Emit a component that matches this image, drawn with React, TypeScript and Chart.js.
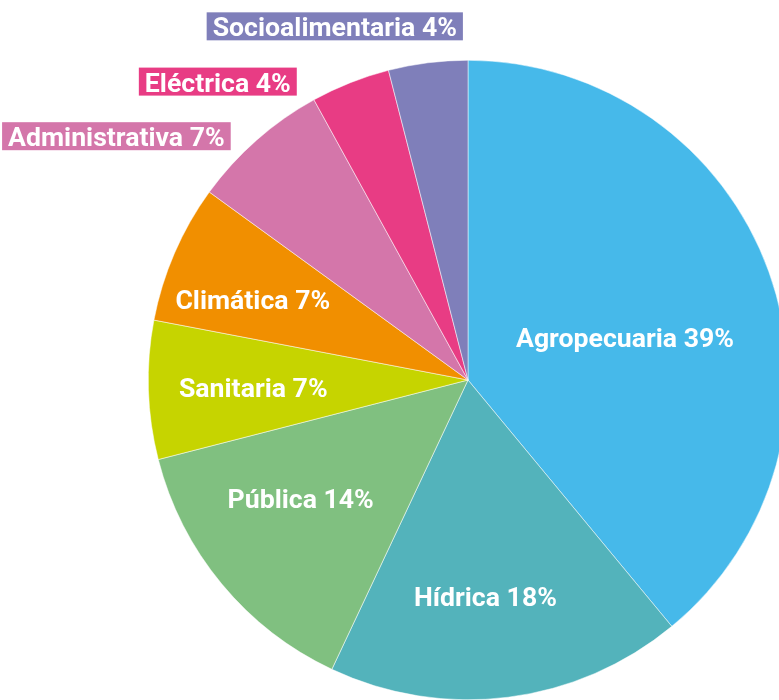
import React, { useEffect, useRef } from "react";
import { Chart, registerables } from "chart.js";

Chart.register(...registerables);

const categories = [
  "Agropecuaria",
  "Hídrica",
  "Pública",
  "Sanitaria",
  "Climática",
  "Administrativa",
  "Eléctrica",
  "Socioalimentaria",
];
const values = [39, 18, 14, 7, 7, 7, 4, 4];
const sliceColors = [
  "#46b9ea",
  "#53b3bb",
  "#80c080",
  "#c6d400",
  "#f18f00",
  "#d476aa",
  "#e83c84",
  "#7f7fba",
];

// label placement (polar, relative to each slice's mid-angle and the pie radius)
const labelPlacement = [
  { frac: 0.509, dAng: 4.5, outside: false },
  { frac: 0.679, dAng: 2.6, outside: false },
  { frac: 0.642, dAng: 4.2, outside: false },
  { frac: 0.672, dAng: -0.3, outside: false },
  { frac: 0.719, dAng: -2.8, outside: false },
  { frac: 1.076, dAng: -3.6, outside: true },
  { frac: 1.084, dAng: -9.15, outside: true },
  { frac: 1.105, dAng: 5.4, outside: true },
];

const FONT_SIZE = 26.67;
const FONT = `bold ${FONT_SIZE}px Roboto, "Noto Sans", sans-serif`;

const total = values.reduce((a, b) => a + b, 0);
const percents = values.map((c) => Math.round((c / total) * 100));

const labelPlugin = {
  id: "sliceLabels",
  afterDatasetsDraw(chart: any) {
    const ctx = chart.ctx as CanvasRenderingContext2D;
    const meta = chart.getDatasetMeta(0);
    ctx.save();
    ctx.font = FONT;
    meta.data.forEach((arc: any, i: number) => {
      const p = arc.getProps(["x", "y", "startAngle", "endAngle", "outerRadius"], true);
      const place = labelPlacement[i];
      const a = (p.startAngle + p.endAngle) / 2 + (place.dAng * Math.PI) / 180;
      const r = p.outerRadius * place.frac;
      const ax = p.x + Math.cos(a) * r;
      const ay = p.y + Math.sin(a) * r;
      const text = `${categories[i]} ${percents[i]}%`;
      const baseline = ay + (FONT_SIZE * 0.711) / 2;
      ctx.textBaseline = "alphabetic";
      if (place.outside) {
        const w = ctx.measureText(text).width;
        const pad = 6;
        ctx.fillStyle = sliceColors[i];
        ctx.fillRect(ax - w - pad, baseline - 24, w + pad * 2, 28);
        ctx.fillStyle = "#ffffff";
        ctx.textAlign = "right";
        ctx.fillText(text, ax, baseline);
      } else {
        ctx.fillStyle = "#ffffff";
        ctx.textAlign = "center";
        ctx.fillText(text, ax, baseline);
      }
    });
    ctx.restore();
  },
};

export default function App() {
  const canvasRef = useRef<HTMLCanvasElement | null>(null);

  useEffect(() => {
    if (!canvasRef.current) return;
    const chart = new Chart(canvasRef.current, {
      type: "pie",
      data: {
        labels: categories,
        datasets: [
          {
            data: values,
            backgroundColor: sliceColors,
            borderColor: "#ffffff",
            borderWidth: 0.5,
            hoverOffset: 0,
          },
        ],
      },
      options: {
        responsive: false,
        maintainAspectRatio: false,
        animation: false,
        layout: { padding: { left: 148, right: 152, top: 60, bottom: 0 } },
        plugins: {
          legend: { display: false },
          tooltip: { enabled: false },
        },
      },
      plugins: [labelPlugin],
    });
    return () => chart.destroy();
  }, []);

  return (
    <div
      style={{
        position: "absolute",
        left: 0,
        top: 0,
        width: 779,
        height: 700,
        overflow: "hidden",
        background: "#ffffff",
      }}
    >
      <canvas ref={canvasRef} width={940} height={700} style={{ display: "block", width: 940, height: 700 }} />
    </div>
  );
}
